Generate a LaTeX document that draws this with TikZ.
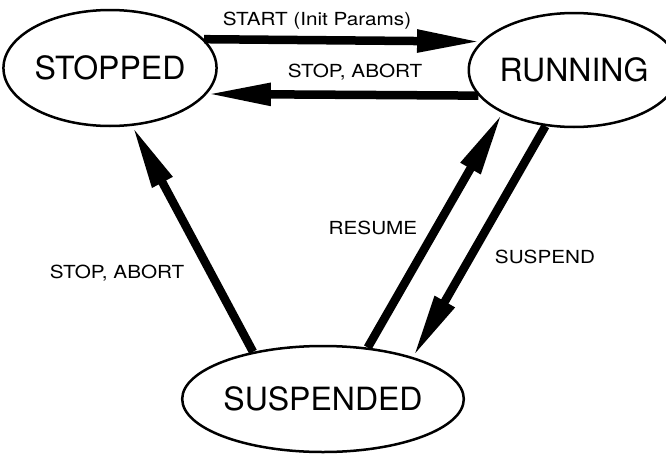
\documentclass[tikz,border=0pt]{standalone}
\usepackage{fontspec}
\setmainfont{TeX Gyre Heros}
\newfontfamily\edgefont[FakeStretch=1.15]{TeX Gyre Heros}
\usepackage{tikz}
\usetikzlibrary{shapes.geometric,arrows.meta}

\tikzset{
  state/.style={ellipse,draw,line width=2.5pt,inner sep=0pt,
    font=\fontsize{32}{36}\selectfont},
  trans/.style={line width=8.5pt,-{Triangle[length=64pt,width=21pt]}},
  tlabel/.style={font=\edgefont\fontsize{18}{20}\selectfont}
}

\begin{document}
\begin{tikzpicture}[x=1pt,y=-1pt]
                      \useasboundingbox (0,0) rectangle (666,455);
                      \node[state,minimum width=192pt,minimum height=116pt](stopped)at(110,68){STOPPED};
                      \node[state,minimum width=180pt,minimum height=114pt](running)at(574,70){RUNNING};
                      \node[state,minimum width=220pt,minimum height=106pt](suspended)at(323,399){SUSPENDED};
                      \draw[trans] (stopped.17) -- (running.163);
                      \draw[trans] (running.195) -- (stopped.345);
                      \draw[trans] (suspended.146) -- (stopped.291);
                      \draw[trans] (suspended.49) -- (running.211);
                      \draw[trans] (running.243) -- (suspended.25);
                      \node[tlabel](startlbl)at(317,21){START (Init Params)};
                      \node[tlabel](stoplbl)at(355,72){STOP, ABORT};
                      \node[tlabel](abortlbl)at(117,273){STOP, ABORT};
                      \node[tlabel](resumelbl)at(373,228){RESUME};
                      \node[tlabel](suspendlbl)at(545,257){SUSPEND};
                  \end{tikzpicture}
\end{document}
